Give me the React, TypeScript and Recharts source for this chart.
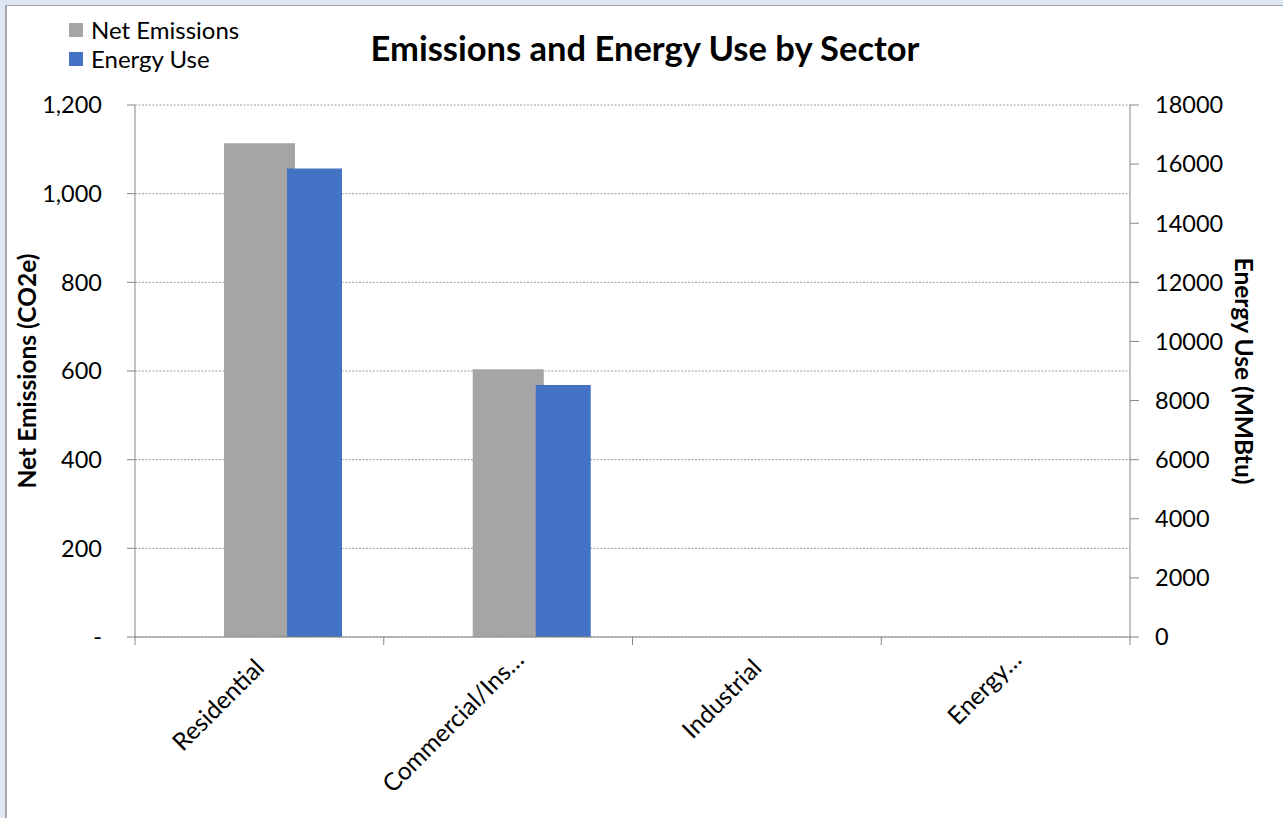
import React from 'react';
import { BarChart, Bar, XAxis, YAxis, CartesianGrid, Text } from 'recharts';

const categories = ['Residential', 'Commercial/Ins…', 'Industrial', 'Energy…'];
const netEmissions = [1114, 604, 0, 0];
const energyUse = [15850, 8530, 0, 0];
const leftTicks = [0, 200, 400, 600, 800, 1000, 1200];
const rightTicks = [0, 2000, 4000, 6000, 8000, 10000, 12000, 14000, 16000, 18000];
const seriesNames = ['Net Emissions', 'Energy Use'];
const seriesColors = ['#A5A5A5', '#4472C4'];
const chartTitle = 'Emissions and Energy Use by Sector';
const leftTitle = 'Net Emissions (CO2e)';
const rightTitle = 'Energy Use (MMBtu)';

const data = categories.map((c, i) => ({ category: c, net: netEmissions[i], energy: energyUse[i] }));

const FONT = 'Lato, "Noto Sans", sans-serif';
const AXIS = '#868686';
const X_TICK_SIZE = 8;
const X_TICK_MARGIN = 12;

const fmtLeft = (v: number) => (v === 0 ? '-' : v.toLocaleString('en-US'));

const CategoryTick = (props: any) => {
  const { x, y, payload, index, visibleTicksCount } = props;
  const half = payload && payload.offset ? payload.offset : 0;
  const axisY = y - X_TICK_SIZE - X_TICK_MARGIN;
  const isLast = index === (visibleTicksCount ?? categories.length) - 1;
  const label = String(payload.value);
  const truncated = label.endsWith('…');
  return (
    <g>
      <line x1={x - half} x2={x - half} y1={axisY} y2={axisY + X_TICK_SIZE} stroke={AXIS} />
      {isLast && <line x1={x + half} x2={x + half} y1={axisY} y2={axisY + X_TICK_SIZE} stroke={AXIS} />}
      <Text
        x={x}
        y={y}
        dx={truncated ? 5 : -6}
        dy={truncated ? -8 : 0}
        angle={-45}
        textAnchor="end"
        verticalAnchor="start"
        fontSize={24.5}
        fill="#000"
        fontFamily={FONT}
      >
        {label}
      </Text>
    </g>
  );
};

export default function App() {
  return (
    <div
      style={{
        position: 'fixed',
        left: 0,
        top: 0,
        width: 1283,
        height: 818,
        background: '#DEE8F4',
        fontFamily: FONT,
        overflow: 'hidden',
      }}
    >
      <div
        style={{
          position: 'absolute',
          left: 5,
          top: 5,
          right: 0,
          bottom: 0,
          background: '#FFFFFF',
          borderLeft: '2px solid #A6A6A6',
          borderTop: '1px solid #A6A6A6',
        }}
      />
      <div
        style={{
          position: 'absolute',
          left: 645,
          top: 31,
          transform: 'translateX(-50%)',
          fontSize: 34.5,
          lineHeight: 1,
          fontWeight: 700,
          whiteSpace: 'nowrap',
          color: '#000',
        }}
      >
        {chartTitle}
      </div>
      {seriesNames.map((name, i) => (
        <div
          key={name}
          style={{
            position: 'absolute',
            left: 69,
            top: 18 + i * 29,
            display: 'flex',
            alignItems: 'center',
            fontSize: 24,
            lineHeight: 1,
            whiteSpace: 'nowrap',
            color: '#000',
          }}
        >
          <span
            style={{ display: 'inline-block', width: 14, height: 14, background: seriesColors[i], marginRight: 8 }}
          />
          <span>{name}</span>
        </div>
      ))}
      <div style={{ position: 'absolute', left: 0, top: 0 }}>
        <BarChart
          width={1283}
          height={818}
          data={data}
          margin={{ top: 105, right: 0, bottom: 0, left: 0 }}
          style={{ fontFamily: FONT }}
        >
          <CartesianGrid
            xAxisId="cat"
            yAxisId="left"
            vertical={false}
            stroke="#9A9A9A"
            strokeDasharray="2 1.5"
          />
          <XAxis
            xAxisId="cat"
            dataKey="category"
            interval={0}
            tickLine={false}
            tickSize={X_TICK_SIZE}
            tickMargin={X_TICK_MARGIN}
            height={181}
            axisLine={{ stroke: AXIS }}
            tick={<CategoryTick />}
          />
          <XAxis
            xAxisId="shift"
            dataKey="category"
            hide
            padding={{ left: 55, right: -55 }}
          />
          <YAxis
            yAxisId="left"
            orientation="left"
            width={135}
            domain={[0, 1200]}
            ticks={leftTicks}
            tickFormatter={fmtLeft}
            tickSize={8}
            tickMargin={25}
            axisLine={{ stroke: AXIS }}
            tickLine={{ stroke: AXIS }}
            tick={{ fontSize: 23.5, fill: '#000' }}
            label={{
              value: leftTitle,
              angle: -90,
              position: 'center',
              dx: -40,
              style: { fontSize: 24.5, fontWeight: 700, fill: '#000', textAnchor: 'middle' },
            }}
          />
          <YAxis
            yAxisId="right"
            orientation="right"
            width={153}
            domain={[0, 18000]}
            ticks={rightTicks}
            tickSize={9}
            tickMargin={16}
            axisLine={{ stroke: AXIS }}
            tickLine={{ stroke: AXIS }}
            tick={{ fontSize: 23.5, fill: '#000' }}
            label={{
              value: rightTitle,
              angle: 90,
              position: 'center',
              dx: 37,
              style: { fontSize: 24.5, fontWeight: 700, fill: '#000', textAnchor: 'middle' },
            }}
          />
          <Bar
            dataKey="net"
            name={seriesNames[0]}
            xAxisId="cat"
            yAxisId="left"
            fill={seriesColors[0]}
            barSize={71}
            isAnimationActive={false}
          />
          <Bar
            dataKey="energy"
            name={seriesNames[1]}
            xAxisId="shift"
            yAxisId="right"
            fill={seriesColors[1]}
            barSize={55}
            isAnimationActive={false}
          />
        </BarChart>
      </div>
    </div>
  );
}
